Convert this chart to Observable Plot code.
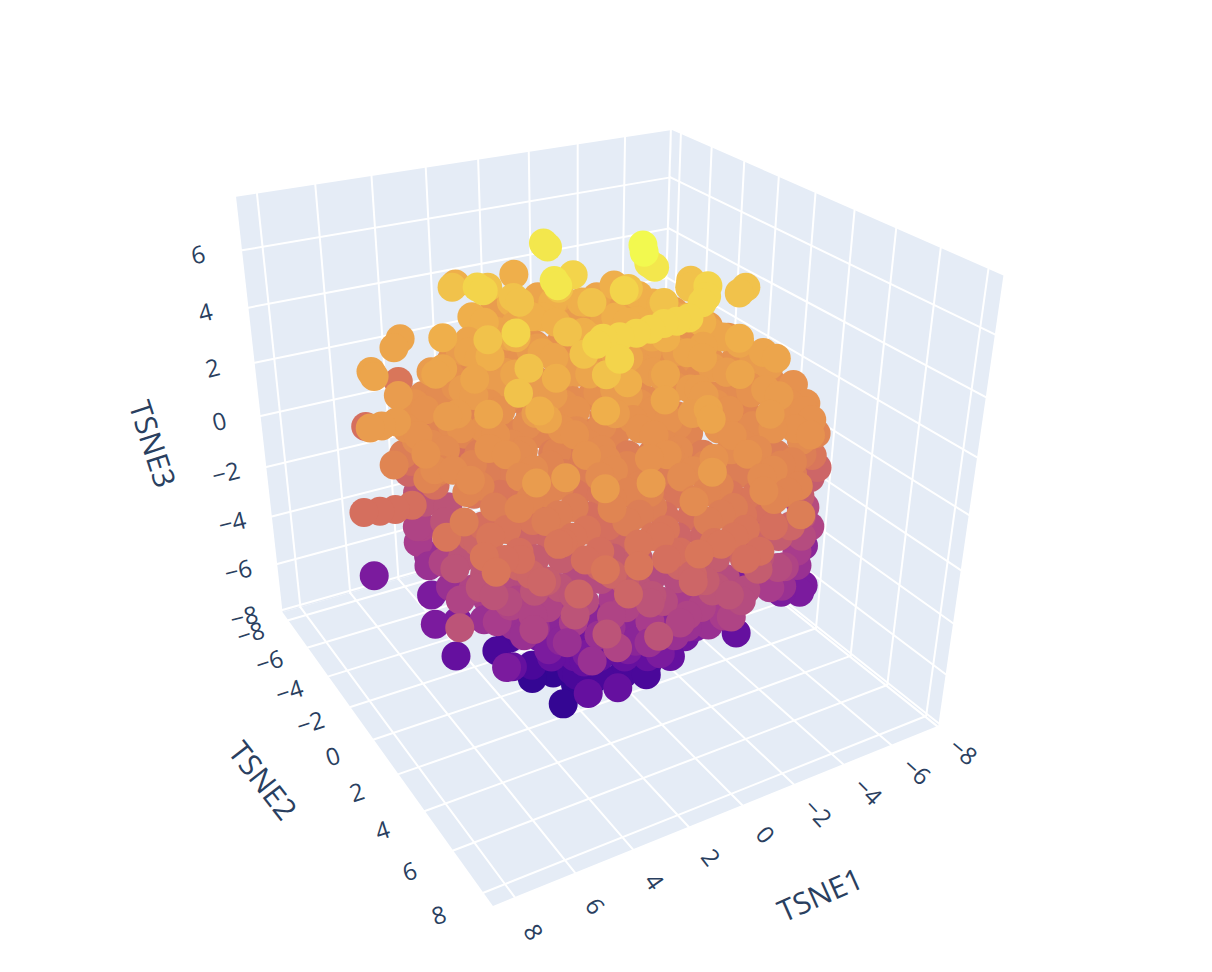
<!DOCTYPE html>
<html>
<head>
<meta charset="utf-8">
<style>html,body{margin:0;padding:0;background:#fff;overflow:hidden}svg{display:block}</style>
<script src="https://cdn.jsdelivr.net/npm/d3@7"></script>
<script src="https://cdn.jsdelivr.net/npm/@observablehq/plot@0.6"></script>
</head>
<body>
<div id="chart"></div>
<script>
// Values: [TSNE1, TSNE2] per colour level of TSNE3
const level65 = [[-2.37,-1.55],[-2.04,-.95]];
const level60 = [[-.26,-4.3],[-.31,-4.49],[-.25,-4.1],[-2.34,-.78],[-2.38,-1.19],[1.18,-.86],[1.06,-1.3]];
const level55 = [[-.37,-2.6],[-1.1,-.61],[-3.68,.32],[-3.11,1.08],[-2.7,1.44],[-1.64,2.28],[-1.18,2.31],[-.73,2.28],[-.15,2.46],[.39,2.51],[.96,2.49],[1.45,2.35],[1.84,2.64],[1.81,3.88],[2.86,-3.12],[2.83,-2.75],[3.52,.77]];
const level50 = [[3.02,-4.67],[1.68,-2.91],[3.96,-.23],[-4.97,.28],[-5.45,-.02],[-4.21,-1.43],[-3.83,-.92],[3.86,2.2],[4.92,3.55],[1.55,.4],[1.96,2.11],[2.12,3.67],
  [2,-4.1],[0,-2.9],[-2,-1.8],[1.7,-2.44],[-.33,-1.32],[-2.35,-.19]];
const level45 = [[2.25,-6.06],[.08,-5.93],[1.36,-2.26],[.16,-3.03],[-.78,-2.51],[-2.42,-3.39],[-2.65,-2.19],[-2.78,-1.04],[.54,-.37],[-1.45,-.35],[4.45,3.92],[2.97,2.23],[2.83,4.82],[1.3,3.52],[3.96,-.12],
  [1.35,-3.7],[-.68,-2.6],[-2.7,-1.4],[3.05,-3.19],[1.02,-2.07],[-1,-.94],[-3.03,.19],[2.9,-2.6],[.9,-1.5],[-1.1,-.4],[-3.2,.75],[4.6,-2.1],[2.6,-1],[.55,.1],[-1.5,1.25],[-3.5,2.4]];
const level40 = [[3.52,-2.53],[-.93,-4.44],[-.25,-4.82],[-2.01,-3.84],[-2.73,-2.36],[1.61,-2.98],[2.59,-3.16],[-3.98,1.78],[-2.82,1.42],[5.15,-1],[4.02,3.58],[.39,4.16],[-.08,5.86],[-.36,5.3],[5.34,-3.76],[5.8,-3.2],[7.14,-1.88],[7.2,-1.5],[4.63,.15],[5.35,2.49],
  [-1.35,-2.2],[.68,-3.3],[-3.4,-1.1],[2.37,-2.82],[.35,-1.69],[-1.68,-.57],[-3.7,.56],[2.2,-2.25],[.2,-1.1],[-1.8,0],[-3.8,1.1],[3.9,-1.75],[1.9,-.6],[-.1,.5],[-2.1,1.6],[-4.2,2.75],[3.8,-1.2],[1.75,-.1],[-.3,1],[-2.3,2.15],[-4.3,3.3],[5.5,-.75],[3.4,.4],[1.4,1.5],[-.6,2.65],[-2.6,3.75]];
const level35 = [[8.3,.71],[7.96,.75],[7.48,.73],[6.02,1.12],[-4.29,2.17],[-4.46,2.76],[-2.98,2.52],[-1.51,3.14],[-1.06,1.81],[-1.65,-.02],[1.35,.11],[1.3,-2.01],[3.73,-.14],[4.22,7.14],[4.84,6.08],[5.68,5.96],[2.97,7.47],[1.16,7.76],
  [3.6,-3],[1.6,-1.9],[-.5,-.75],[-2.5,.4],[3.25,-1.4],[1.2,-.25],[-.8,.9],[-2.8,2],[5.1,-2],[3.1,-.85],[1.1,.25],[-.95,1.4],[-3,2.5],[4.8,-.35],[2.8,.75],[.75,1.9],[-1.3,3],[-3.3,4.15],[6.7,-.9],[4.7,.2],[2.6,1.35],[.6,2.45],[-1.4,3.6],[-3.4,4.7],[5.7,1.1],[3.65,2.2],[1.6,3.35],[-.4,4.45],[-2.4,5.6],
  [1.1,-5.5],[-.2,-4.7],[-.9,-4.3],[-2.25,-3.6],[-2.9,-3.2],[-4.3,-2.5],[1.5,-4.25],[.8,-3.85],[-.55,-3.1],[-1.2,-2.75],[-2.6,-2],[-3.25,-1.6],[-4.6,-.85]];
const level30 = [[-5.33,-.7],[-5.26,1.77],[-4.97,3.41],[-4.46,4.71],[-3.92,5.7],[-3.42,3.27],[-3.61,4.45],[-2.09,3.97],[-.14,3.6],[.81,3.07],[.77,.94],[2.88,.84],[5.45,2.65],[5.6,1.13],[4.27,-2.37],[-2.99,.16],[1.72,5.44],[.1,6.34],[-2.51,5.64],[1.44,-5.9],[2.09,-3.39],[-1.2,-3.71],[-2.42,-3.03],[-3.77,-2.28],[-4.25,-1.3],[.47,-2.49],
  [4.45,-1.6],[2.4,-.5],[.4,.65],[-1.6,1.75],[-3.65,2.9],[6.1,-1.1],[4.1,0],[2.1,1.15],[.05,2.25],[-2,3.4],[-4,4.5],[6,-.55],[4,.6],[2,1.7],[-.05,2.85],[-2.1,3.95],[-4.1,5.1],[7,.3],[5,1.45],[3,2.6],[.95,3.7],[-1.1,4.85],[-3.1,5.95],[6.9,.9],[4.9,2],[2.85,3.1],[.8,4.25],[-1.2,5.4],[-3.25,6.5],[7.2,2.1],[5.2,3.25],[3.2,4.4],[1.15,5.5],[-.9,6.6],
  [2.7,-4.4],[2,-4],[.7,-3.3],[0,-2.9],[-1.4,-2.2],[-2,-1.8],[-3.4,-1],[-4.1,-.7],[3.7,-3.5],[2.35,-2.8],[1.7,-2.4],[.3,-1.7],[-.35,-1.3],[-1.7,-.5],[-2.4,-.2],[-3.7,.6],[-4.4,1]];
const level25 = [[2.68,-3.29],[4.92,-2.01],[6.68,.24],[7,2.22],[6.38,3.28],[4.47,2.55],[2.17,2.03],[2.34,4.09],[.55,4.73],[-1.23,5.36],[-3.45,5.87],[-.58,7.87],[1.5,7.43],
  [5.3,-.15],[3.3,.95],[1.3,2.1],[-.75,3.2],[-2.75,4.35],[6.4,.7],[4.3,1.85],[2.3,2.95],[.3,4.1],[-1.75,5.2],[6.2,1.25],[4.2,2.4],[2.15,3.5],[.15,4.6],[-1.9,5.75],[6.55,2.5],[4.5,3.6],[2.5,4.75],[.5,5.9],[-1.55,7],[5.05,3.8],[3.05,4.9],[1,6.05],[-1,7.2],
  [3.55,-3],[2.9,-2.6],[1.5,-1.9],[.85,-1.5],[-.5,-.8],[-1.2,-.4],[-2.5,.3],[-3.2,.7],[-4.55,1.5],[-5.2,1.9],[5.2,-2.5],[4.6,-2.2],[3.2,-1.4],[2.5,-1],[1.2,-.3],[.5,.1],[-.85,.8],[-1.5,1.2],[-2.9,2],[-3.5,2.3],[-4.9,3.1]];
const level20 = [[7.04,1.77],[6.47,1.44],[5.53,4.61],[3.23,5.89],[-2.97,6.11],[-4.77,4.95],[-3.15,4.05],[4.41,-.15],[2.28,-1.84],[2.91,2.12],[1.8,5.61],
  [7.55,.5],[5.5,1.6],[3.5,2.75],[1.5,3.9],[-.55,5],[-2.55,6.1],[5.9,2.9],[3.85,4],[1.8,5.1],[-.2,6.25],[-2.2,7.4],[6.4,3.05],[4.4,4.2],[2.35,5.3],[.35,6.4],[-1.7,7.55],[5,4.3],[2.95,5.45],[.9,6.6],[-1.1,7.7],
  [5.8,-2.3],[4.4,-1.6],[3.8,-1.2],[2.4,-.5],[1.7,-.1],[.4,.7],[-.3,1],[-1.65,1.8],[-2.3,2.2],[-3.65,2.9],[-4.3,3.3],[5.5,-.7],[4.8,-.3],[3.4,.4],[2.75,.8],[1.4,1.5],[.7,1.9],[-.6,2.7],[-1.3,3],[-2.65,3.8],[-3.3,4.2]];
const level15 = [[4.29,-3.57],
  [5.7,3.4],[3.7,4.55],[1.7,5.65],[-.35,6.8],[4.3,4.7],[2.25,5.8],[.2,6.95],[-1.8,8.1],[6.85,3.75],[4.8,4.85],[2.8,6],[.75,7.1],
  [6.65,-.9],[6,-.5],[4.6,.2],[4,.6],[2.6,1.3],[1.95,1.7],[.6,2.5],[-.1,2.8],[-1.45,3.6],[-2.1,4],[-3.45,4.7],[-4.15,5.1],[6.3,.7],[5,1.5],[4.3,1.8],[2.95,2.6],[2.3,3],[.9,3.7],[.25,4.1],[-1.1,4.8],[-1.8,5.2],[-3.1,6]];
const level10 = [[4.21,-6.87],[5.04,-3.53],[7.3,3.49],[6.84,4.97],[6.92,5.85],[4.23,7.21],[1.5,7.79],[.77,7.48],[3.32,7.5],[4.55,5.38],[4.7,3.86],[-2.6,6.12],[-5,4.58],[-.86,6.59],[1.96,6.46],[4.43,-2.46],[5.5,1.62],
  [5.6,3.95],[3.6,5.1],[1.6,6.2],[-.45,7.3],[6.2,4.1],[4.15,5.25],[2.1,6.35],[.1,7.5],[4.7,5.4],[2.7,6.5],[.65,7.65],
  [4.8,2],[4.15,2.4],[2.8,3.1],[2.15,3.5],[.8,4.2],[.1,4.6],[-1.25,5.4],[-1.9,5.8]];
const level05 = [[6.2,-5.13],[8.5,.2],[8.05,.36],[7.6,.49],[7.05,.5],[5.91,-.3],[5.89,-2.09],[5.65,4.87],[2.5,4.47],[1.7,6.7],[-1.73,4.66],[-3.95,5.18],[-7.1,1.54],[-1.82,6.86],[.86,3.58],[5.74,2.66],[4.24,-1.53],
  [5.5,4.5],[3.45,5.6],[1.45,6.75],[-.6,7.85],[6.05,4.65],[4.05,5.8],[2,6.9],[0,8],
  [4.7,2.5],[4.1,2.9],[2.7,3.7],[2.05,4],[.7,4.8],[0,5.2],[-1.35,5.9],[-2,6.3]];
const level00 = [[5.91,-2.35],[4.48,-4.08],[5.93,2.67],[5.32,5.51],[4.71,6.58],[3.49,7.26],[1.54,7.62],[-.47,7.3],[-2.81,6.45],[-5.87,3.84],[4.09,1.17],
  [5.4,5],[3.35,6.15],[1.35,7.3],[5.5,4.45],[3.45,5.6],[1.4,6.7],
  [5.95,2.3],[4.6,3.1],[3.9,3.4],[2.55,4.2],[1.9,4.6],[.55,5.3],[-.15,5.7],[-1.5,6.4]];
const levelM05 = [[4.8,4.85],[2.8,5.95],[.75,7.1],[-4.78,4.41],[-2.65,6.11],[-5.84,3.57],[-.98,7.34],
  [4.5,3.6],[3.8,4],[2.45,4.7],[1.8,5.1],[.45,5.9],[-.25,6.2]];
const levelM10 = [[-7.9,.5],[-7.4,1.7],[5.52,-2.64],[3.06,8.21],[7.75,5.1],[4.27,7.4],[4.58,6.14],[5,4.47],[6.5,2.2],[.41,7.02],[-1.93,6.17],[-4.6,4.78],[5.06,-1.31],[2.36,6.66],
  [5.57,-1.94],[5.56,-.49],[6.03,1.75],[5.86,2.92],[4.93,-4.44],
  [6.15,4.1],[4.1,5.2],[2.1,6.35],[.1,7.45],[6.3,3.5],[4.25,4.65],[2.25,5.8],[.2,6.9]];
const levelM15 = [[5.6,3.9],[3.6,5],[1.55,6.15],[-.5,7.25],[-4.38,5.13],[-2.58,6.28],[-.97,6.83],[-5.64,3.67],
  [5.25,2.7],[4.6,3],[3.2,3.8],[2.55,4.2],[1.2,4.9],[.5,5.3],[-.8,6]];
const levelM20 = [[-6.25,2.68],[-5.56,4.1],[5.78,-2.21],[5.16,-1.15],[4.98,3.26],[5.27,4.9],[-3.3,5.71],[-.19,7.22],[1.32,6.73],[3.6,6.9],[6.47,2.43],
  [5.64,-2.13],[5.99,.2],[5.86,2.06],[5.28,3.46],[4.92,-3.86],
  [4.95,4.25],[2.9,5.4],[.9,6.5],[4.35,4.1],[2.3,5.25],[.3,6.35]];
const levelM25 = [[5.7,3.35],[3.7,4.5],[1.65,5.6],[-2.66,5.86],[-.48,6.45],[-4.76,4.51],[5.84,-2.07],
  [5.4,2.1],[4.05,2.8],[3.35,3.2],[2,4],[1.35,4.4],[0,5.1],[-.7,5.5]];
const levelM30 = [[5.83,-1.31],[4.91,-1.51],[5.03,3.1],[3.86,5.9],[4.82,.69],[-.23,6.03],[-3.55,5.35],[-4.75,4.58],[1.88,5.93],[4.04,4.72],
  [5.58,-1.88],[5.76,.17],[5.67,2.38],[5,3.75],[3,4.85],[1,6],[4.5,3.55],[2.45,4.65],[.4,5.8]];
const levelM35 = [[3.8,3.9],[1.8,5.05],[-6.25,3.04],
  [4.1,2.3],[3.45,2.7],[2.1,3.4],[1.4,3.8],[.1,4.6],[-.6,4.9]];
const levelM40 = [[7.06,-3.13],[5.88,-1.11],[6.5,.5],[5.8,.7],[-4.85,4.71],[-5.22,4.42],[-4.31,4.41],[5.6,3.7],[-.69,4.7],[1.86,4.72],[4.02,3.51],[-3.36,3.31],[3.1,4.3],[1.1,5.4]];
const levelM45 = [[3.6,2.1],[2.2,2.9],[1.55,3.2],[.2,4],[-.5,4.4]];
const levelM50 = [[6.1,1.1],[-2.52,4.45],[3.4,4.9],[4.79,2.5],[2.67,3.4],[3.42,-.93],[2.45,5.1],[-.45,3.38],
  [3.45,2.65],[2.8,3],[2.1,3.4],[1.4,3.8],[.75,4.15],[.1,4.5]];
const levelM60 = [[4.19,.2],[3.46,-.25],[3.56,1.5],[.42,2.16],[.24,3.35],[-.36,2.96],[.93,1.53],[2.56,2.4],
  [2.55,2.7],[1.9,3.05],[1.2,3.4],[.55,3.8]];
const levelM67 = [[3.45,1.3],[3.23,3.01],[1.64,2.31],[2.69,1.37],[2.35,2.28],[-.24,2.5],[.28,1.28]];
const levels = [[6.5,level65],[6,level60],[5.5,level55],[5,level50],[4.5,level45],[4,level40],[3.5,level35],[3,level30],[2.5,level25],[2,level20],[1.5,level15],[1,level10],[.5,level05],[0,level00],[-.5,levelM05],[-1,levelM10],[-1.5,levelM15],[-2,levelM20],[-2.5,levelM25],[-3,levelM30],[-3.5,levelM35],[-4,levelM40],[-4.5,levelM45],[-5,levelM50],[-6,levelM60],[-6.7,levelM67]];

const ticks = [-8,-6,-4,-2,0,2,4,6,8];
const ticks3 = [-8,-6,-4,-2,0,2,4,6];
const range1 = [-8.05,8.7], range2 = [-8.6,8.6], range3 = [-8.1,7.8];
const titles = [
  {text:"TSNE1", a:0.3, b:12.9, c:-8.1, rotate:-24},
  {text:"TSNE2", a:12.6, b:0.2, c:-8.1, rotate:52},
  {text:"TSNE3", a:12.6, b:-8.3, c:0, rotate:72}
];
// colour ramp
const rampStops = [-7,-5.5,-4,-2.5,-1,0.5,2,3,4.5,5.5,6.5];
const rampColors = ["#2a0590","#5a0a9f","#7b1b9e","#a83c8c","#bc5478","#d56f5e","#e08552","#e6924f","#efaf4b","#f3d44b","#f2f94f"];

// Camera: a projective map fitted to where the box corners fall on the page
const [x0,x1]=range1,[y0,y1]=range2,[z0,z1]=range3;
const anchors = [
 [x1,y0,z0,282,610],[x1,y1,z0,492,907],[x0,y1,z0,938,723],
 [x1,y0,z1,236,197],[x0,y0,z1,671,128],[x0,y1,z1,1003,276],[x0,y0,z0,660,506]
];
function solve(A,b){
  const n=b.length,M=A.map((r,i)=>[...r,b[i]]);
  for(let i=0;i<n;i++){
    let p=i;for(let k=i+1;k<n;k++)if(Math.abs(M[k][i])>Math.abs(M[p][i]))p=k;
    [M[i],M[p]]=[M[p],M[i]];
    for(let k=0;k<n;k++){if(k===i)continue;const f=M[k][i]/M[i][i];for(let j=i;j<=n;j++)M[k][j]-=f*M[i][j];}
  }
  return M.map((r,i)=>r[n]/r[i]);
}
const rows=[],rhs=[];
for(const [X,Y,Z,u,v] of anchors){
  const x=X/10,y=Y/10,z=Z/10,s=u/1000,t=v/1000;
  rows.push([x,y,z,1,0,0,0,0,-s*x,-s*y,-s*z]);rhs.push(s);
  rows.push([0,0,0,0,x,y,z,1,-t*x,-t*y,-t*z]);rhs.push(t);
}
const ata=Array.from({length:11},(_,i)=>Array.from({length:11},(_,j)=>d3.sum(rows,r=>r[i]*r[j])));
const atb=Array.from({length:11},(_,i)=>d3.sum(rows,(r,k)=>r[i]*rhs[k]));
const h=solve(ata,atb);
const W=(X,Y,Z)=>(h[8]*X+h[9]*Y+h[10]*Z)/10+1;
const px=(X,Y,Z)=>1000*((h[0]*X+h[1]*Y+h[2]*Z)/10+h[3])/W(X,Y,Z);
const py=(X,Y,Z)=>1000*((h[4]*X+h[5]*Y+h[6]*Z)/10+h[7])/W(X,Y,Z);
const sx=d=>px(d.a,d.b,d.c), sy=d=>py(d.a,d.b,d.c);

const points=levels.flatMap(([c,l])=>l.map(([a,b])=>({a,b,c})));
const farSign=Math.sign(W(x0,y0,z0)-W(x1,y1,z1));
points.sort((p,q)=>farSign*(W(q.a,q.b,q.c)-W(p.a,p.b,p.c)));

const corner=(a,b,c,plane)=>({a,b,c,plane});
const planes=[
 [corner(x0,y0,z0,"floor"),corner(x1,y0,z0,"floor"),corner(x1,y1,z0,"floor"),corner(x0,y1,z0,"floor")],
 [corner(x0,y0,z0,"left"),corner(x1,y0,z0,"left"),corner(x1,y0,z1,"left"),corner(x0,y0,z1,"left")],
 [corner(x0,y0,z0,"right"),corner(x0,y1,z0,"right"),corner(x0,y1,z1,"right"),corner(x0,y0,z1,"right")]
].flat();
const grid=[];
let id=0;
const seg=(a1,b1,c1,a2,b2,c2)=>{id++;grid.push({a:a1,b:b1,c:c1,id},{a:a2,b:b2,c:c2,id});};
for(const t of ticks){
  seg(t,y0,z0,t,y1,z0); seg(x0,t,z0,x1,t,z0);   // floor
  seg(t,y0,z0,t,y0,z1);                         // back left wall, verticals
  seg(x0,t,z0,x0,t,z1);                         // back right wall, verticals
}
for(const t of ticks3){
  seg(x0,y0,t,x1,y0,t); seg(x0,y0,t,x0,y1,t);   // walls, horizontals
}
const fmt=t=>t<0?"\u2212"+(-t):String(t);
const labels1=ticks.map(t=>({a:t+0.2,b:y1+1.45,c:z0,s:fmt(t),r:50+t*1.25}));
const labels2=ticks.map(t=>({a:x1+1.5,b:t+0.2,c:z0,s:fmt(t),r:-18}));
const labels3=ticks3.map(t=>({a:x1+1.4,b:y0-0.2,c:t,s:fmt(t),r:-14}));
const ink="#2a3f5f", font="'Open Sans', sans-serif";

const chart=Plot.plot({
  width:1212,height:972,margin:0,
  x:{domain:[0,1212],range:[0,1212],axis:null},
  y:{domain:[0,972],range:[0,972],axis:null},
  color:{type:"linear",domain:rampStops,range:rampColors,interpolate:"rgb"},
  marks:[
    Plot.line(planes,{x:sx,y:sy,z:"plane",fill:"#e5ecf6",stroke:"none"}),
    Plot.line(grid,{x:sx,y:sy,z:"id",stroke:"#ffffff",strokeWidth:2}),
    Plot.text([...labels1,...labels2,...labels3],{x:sx,y:sy,text:"s",rotate:"r",fontSize:24,fontFamily:font,fill:ink}),
    Plot.text(titles,{x:sx,y:sy,text:"text",rotate:"rotate",fontSize:30,fontFamily:font,fill:ink}),
    Plot.dot(points,{x:sx,y:sy,r:14.5,fill:"c",stroke:"none"})
  ]
});
document.getElementById("chart").append(chart);
</script>
</body>
</html>
